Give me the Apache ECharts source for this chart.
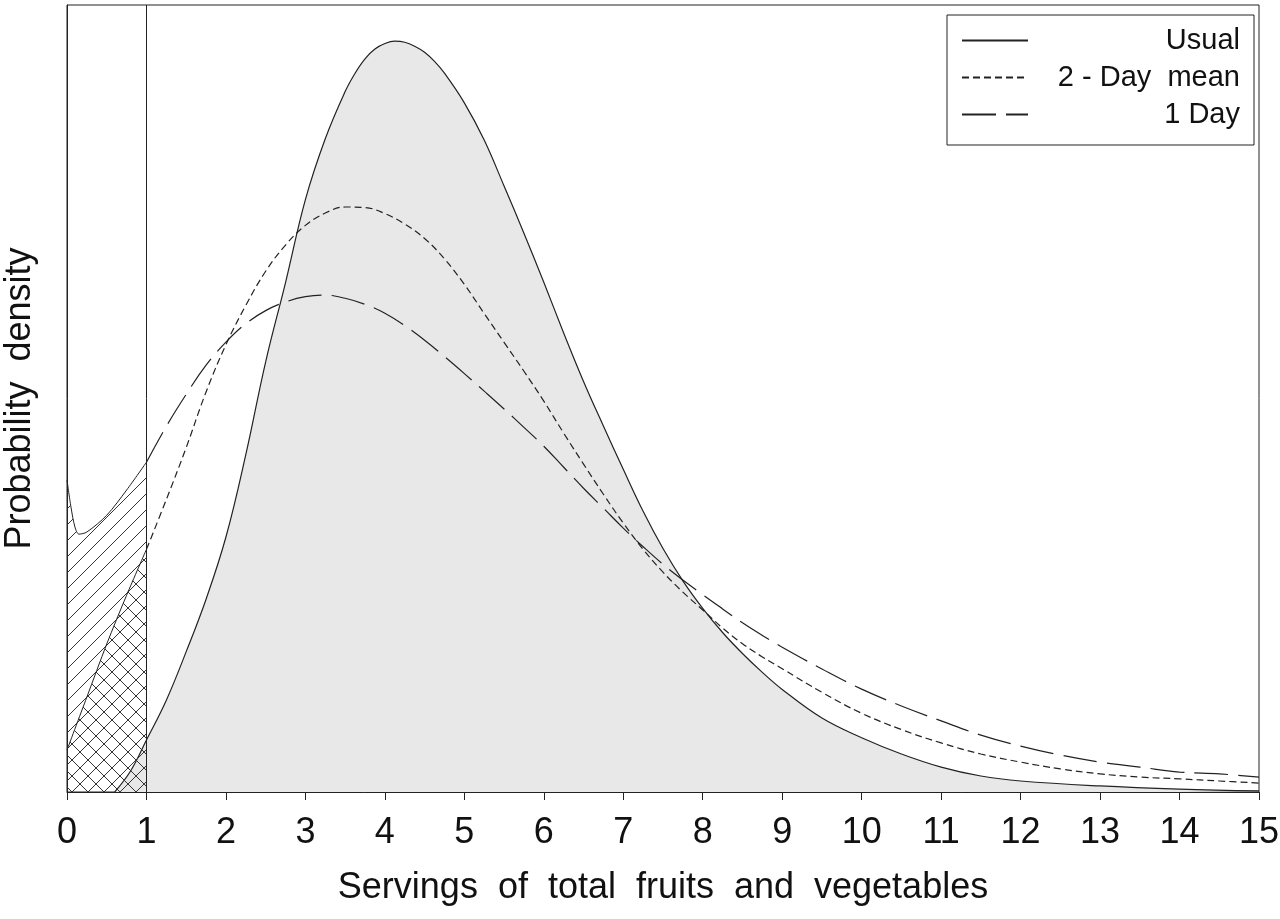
<!DOCTYPE html>
<html>
<head>
<meta charset="utf-8">
<title>Servings of total fruits and vegetables</title>
<script src="https://cdn.jsdelivr.net/npm/echarts@6/dist/echarts.min.js"></script>
<style>
  html, body { margin: 0; padding: 0; background: #fff; }
  #chart { width: 1280px; height: 919px; }
</style>
</head>
<body>
<div id="chart"></div>
<script>
  // x = servings, y = density
  var usualX = [0.6, 0.8, 1, 1.25, 1.5, 1.75, 2, 2.25, 2.5, 2.75,
    3, 3.25, 3.5, 3.625, 3.75, 3.875, 4, 4.125, 4.25, 4.375,
    4.5, 4.625, 4.75, 5, 5.25, 5.5, 5.75, 6, 6.25, 6.5,
    6.75, 7, 7.25, 7.5, 7.75, 8, 8.25, 8.5, 8.75, 9,
    9.5, 10, 10.5, 11, 11.5, 12, 13, 14, 15];
  var usualY = [0, 0.0080, 0.0198, 0.0350, 0.0535, 0.0735, 0.0972, 0.1286, 0.1640, 0.1942,
    0.2258, 0.2490, 0.2670, 0.2740, 0.2795, 0.2832, 0.2853, 0.2862, 0.2858, 0.2843,
    0.2820, 0.2785, 0.2740, 0.2627, 0.2485, 0.2310, 0.2130, 0.1943, 0.1750, 0.1565,
    0.1395, 0.1230, 0.1070, 0.0928, 0.0805, 0.0700, 0.0608, 0.0528, 0.0456, 0.0391,
    0.0282, 0.0207, 0.0145, 0.0095, 0.0061, 0.0042, 0.0023, 0.0011, 0.0004];

  var twoDayX = [0, 0.25, 0.5, 0.75, 1, 1.25, 1.5, 1.75, 2, 2.25,
    2.5, 2.75, 3, 3.25, 3.5, 3.75, 4, 4.25, 4.5, 4.75,
    5, 5.25, 5.5, 5.75, 6, 6.25, 6.5, 6.75, 7, 7.25,
    7.5, 7.75, 8, 8.25, 8.5, 8.75, 9, 9.5, 10, 10.5,
    11, 11.5, 12, 12.5, 13, 13.5, 14, 14.5, 15];
  var twoDayY = [0.0160, 0.0362, 0.0564, 0.0750, 0.0925, 0.1115, 0.1313, 0.1525, 0.1705, 0.1855,
    0.1985, 0.2085, 0.2160, 0.2207, 0.2230, 0.2228, 0.2205, 0.2165, 0.2110, 0.2032,
    0.1935, 0.1824, 0.1714, 0.1604, 0.1490, 0.1368, 0.1250, 0.1135, 0.1025, 0.0925,
    0.0838, 0.0762, 0.0694, 0.0625, 0.0565, 0.0515, 0.0470, 0.0380, 0.0300, 0.0238,
    0.0187, 0.0145, 0.0114, 0.0088, 0.0069, 0.0057, 0.0050, 0.0042, 0.0034];

  var oneDayX = [0, 0.05, 0.1, 0.15, 0.25, 0.5, 0.75, 1, 1.25, 1.5,
    1.75, 2, 2.25, 2.5, 2.75, 3, 3.25, 3.5, 3.75, 4,
    4.25, 4.5, 4.75, 5, 5.25, 5.5, 5.75, 6, 6.25, 6.5,
    6.75, 7, 7.25, 7.5, 7.75, 8, 8.25, 8.5, 8.75, 9,
    9.5, 10, 10.5, 11, 11.5, 12, 12.5, 13, 13.5, 14,
    14.5, 15];
  var oneDayY = [0.1189, 0.1086, 0.1010, 0.0983, 0.0991, 0.1055, 0.1151, 0.1257, 0.1394, 0.1516,
    0.1627, 0.1715, 0.1785, 0.1835, 0.1868, 0.1888, 0.1894, 0.1882, 0.1859, 0.1825,
    0.1778, 0.1722, 0.1660, 0.1595, 0.1528, 0.1460, 0.1390, 0.1318, 0.1238, 0.1158,
    0.1082, 0.1006, 0.0935, 0.0868, 0.0808, 0.0752, 0.0698, 0.0645, 0.0597, 0.0552,
    0.0469, 0.0392, 0.0328, 0.0271, 0.0217, 0.0175, 0.0141, 0.0114, 0.0095, 0.0076,
    0.0069, 0.0057];

  var xTicks = [0, 1, 2, 3, 4, 5, 6, 7, 8, 9, 10, 11, 12, 13, 14, 15];
  var cutoff = 1; // servings line

  var font = "'Liberation Sans', Arial, Helvetica, sans-serif";

  function pairs(xs, ys, from, to) {
    var out = [];
    for (var i = 0; i < xs.length; i++) {
      if (xs[i] >= from && xs[i] <= to) out.push([xs[i], ys[i]]);
    }
    return out;
  }

  // hatching tiles
  function hatch(back) {
    var s = 16;
    var c = document.createElement('canvas');
    c.width = s; c.height = s;
    var g = c.getContext('2d');
    g.strokeStyle = '#333';
    g.lineWidth = 1;
    g.beginPath();
    [-s, 0, s].forEach(function (o) {
      if (back) { g.moveTo(o, 0); g.lineTo(o + s, s); }
      else { g.moveTo(o, s); g.lineTo(o + s, 0); }
    });
    g.stroke();
    return { image: c, repeat: 'repeat' };
  }

  var myChart = echarts.init(document.getElementById('chart'));
  var option = {
    animation: false,
    backgroundColor: '#fff',
    textStyle: { fontFamily: font, color: '#111' },
    grid: {
      left: 67, right: 21, top: 5, bottom: 127,
      containLabel: false,
      outerBoundsMode: 'none',
      show: true, borderColor: '#222', borderWidth: 1
    },
    legend: {
      data: ['Usual', '2-Day mean', '1 Day'],
      orient: 'vertical',
      right: 26,
      top: 15,
      padding: [11, 14, 16, 14],
      borderColor: '#222',
      borderWidth: 1,
      itemWidth: 66,
      itemHeight: 20,
      itemGap: 8,
      itemStyle: { opacity: 0 },
      formatter: function (name) {
        var label = name === '2-Day mean' ? '2 - Day  mean' : name;
        return '{t|' + label + '}';
      },
      textStyle: {
        rich: {
          t: { width: 207, align: 'right', fontSize: 29, lineHeight: 30, fontFamily: font, color: '#111' }
        }
      }
    },
    xAxis: {
      type: 'value',
      min: xTicks[0],
      max: xTicks[xTicks.length - 1],
      interval: 1,
      name: 'Servings  of  total  fruits  and  vegetables',
      nameLocation: 'middle',
      nameGap: 78,
      nameTextStyle: { fontSize: 36, color: '#111' },
      axisLine: { show: true, lineStyle: { color: '#222', width: 1 } },
      axisTick: { show: true, length: 8, lineStyle: { color: '#222' } },
      axisLabel: { fontSize: 36, margin: 23, color: '#111' },
      splitLine: { show: false }
    },
    yAxis: {
      type: 'value',
      min: 0,
      max: 0.3,
      name: 'Probability  density',
      nameLocation: 'middle',
      nameGap: 29,
      nameTextStyle: { fontSize: 36, color: '#111' },
      axisLine: { show: true, lineStyle: { color: '#222' } },
      axisTick: { show: false },
      axisLabel: { show: false },
      splitLine: { show: false }
    },
    series: [
      {
        name: 'Usual',
        type: 'line',
        data: pairs(usualX, usualY, 0, 15),
        smooth: 0.4,
        symbol: 'none',
        z: 2,
        lineStyle: { color: '#222', width: 1.2 },
        itemStyle: { color: '#222' },
        areaStyle: { color: '#e8e8e8', opacity: 1 },
        markLine: {
          silent: true,
          symbol: 'none',
          label: { show: false },
          lineStyle: { color: '#222', width: 1, type: 'solid' },
          data: [{ xAxis: cutoff }]
        }
      },
      {
        name: '2-Day mean',
        type: 'line',
        data: pairs(twoDayX, twoDayY, cutoff, 15),
        smooth: 0.4,
        symbol: 'none',
        z: 4,
        lineStyle: { color: '#222', width: 1.2, type: [7, 4] },
        itemStyle: { color: '#222' }
      },
      {
        name: '1 Day',
        type: 'line',
        data: pairs(oneDayX, oneDayY, cutoff, 15),
        smooth: 0.4,
        symbol: 'none',
        z: 4,
        lineStyle: { color: '#222', width: 1.2, type: [34, 10] },
        itemStyle: { color: '#222' }
      },
      {
        name: '1 Day below 1',
        type: 'line',
        data: pairs(oneDayX, oneDayY, 0, cutoff),
        smooth: 0.3,
        symbol: 'none',
        z: 3,
        lineStyle: { color: '#222', width: 1 },
        areaStyle: { color: hatch(false), opacity: 1 }
      },
      {
        name: '2-Day below 1',
        type: 'line',
        data: pairs(twoDayX, twoDayY, 0, cutoff),
        smooth: 0.3,
        symbol: 'none',
        z: 3,
        lineStyle: { color: '#222', width: 1 },
        areaStyle: { color: hatch(true), opacity: 1 }
      }
    ]
  };
  myChart.setOption(option);
</script>
</body>
</html>
